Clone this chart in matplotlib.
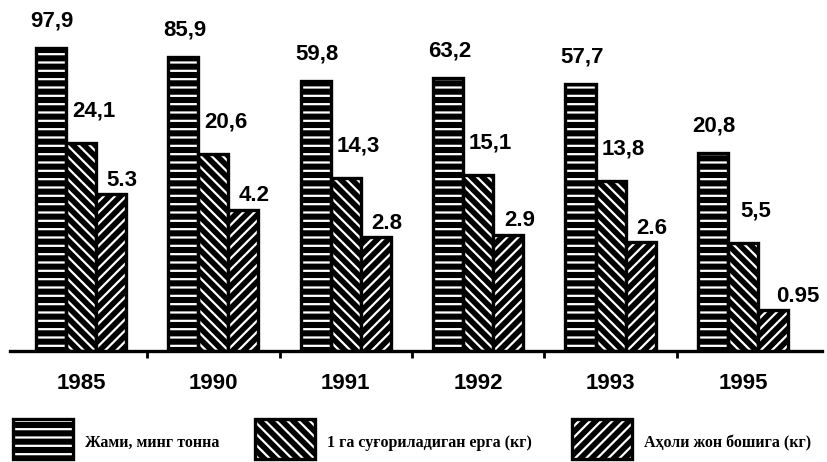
import numpy as np
import matplotlib
matplotlib.use('Agg')
import matplotlib.pyplot as plt
from matplotlib.patches import Rectangle

# data
years = ['1985', '1990', '1991', '1992', '1993', '1995']
total_kt = [97.9, 85.9, 59.8, 63.2, 57.7, 20.8]
per_ha_kg = [24.1, 20.6, 14.3, 15.1, 13.8, 5.5]
per_capita_kg = [5.3, 4.2, 2.8, 2.9, 2.6, 0.95]

total_labels = ['97,9', '85,9', '59,8', '63,2', '57,7', '20,8']
per_ha_labels = ['24,1', '20,6', '14,3', '15,1', '13,8', '5,5']
per_capita_labels = ['5.3', '4.2', '2.8', '2.9', '2.6', '0.95']

legend_labels = ['Жами, минг тонна', '1 га суғориладиган ерга (кг)', 'Аҳоли жон бошига (кг)']

plt.rcParams['hatch.linewidth'] = 1.6
num_font = dict(family=['Liberation Sans', 'DejaVu Sans'], fontweight='bold', fontsize=16)
leg_font = dict(family=['Liberation Serif', 'DejaVu Serif'], fontweight='bold', fontsize=11.5)

W, H = 828, 462
fig = plt.figure(figsize=(W / 100, H / 100), dpi=100)
ax = fig.add_axes([10 / W, 111 / H, 812 / W, 351 / H])
ax3 = ax.twinx()  # per-capita series drawn on its own log scale

x = np.arange(len(years))
w = 0.227


def hatched_bars(axis, xs, vals, low, hatch):
    vals = np.array(vals)
    # white hatch on black fill, then a heavy black outline
    axis.bar(xs, vals - low, bottom=low, width=w, color='black',
             edgecolor='white', hatch=hatch, linewidth=0, zorder=2)
    axis.bar(xs, vals - low, bottom=low, width=w, fill=False,
             edgecolor='black', linewidth=2.4, zorder=3)


ax.set_yscale('log')
ax.set_ylim(1.12, 199)
ax3.set_yscale('log')
ax3.set_ylim(0.522, 92.8)

hatched_bars(ax, x - w, total_kt, 1.12, '--')
hatched_bars(ax, x, per_ha_kg, 1.12, '\\\\\\')
hatched_bars(ax3, x + w, per_capita_kg, 0.522, '///')

for xi, v, lab in zip(x - w, total_kt, total_labels):
    ax.annotate(lab, (xi, v), xytext=(1, 19.5), textcoords='offset points',
                ha='center', va='center', **num_font)
for xi, v, lab in zip(x, per_ha_kg, per_ha_labels):
    ax.annotate(lab, (xi, v), xytext=(9, 23), textcoords='offset points',
                ha='center', va='center', **num_font)
for xi, v, lab in zip(x + w, per_capita_kg, per_capita_labels):
    dx = 18 if lab == '0.95' else 8
    ax3.annotate(lab, (xi, v), xytext=(dx, 10), textcoords='offset points',
                 ha='center', va='center', **num_font)

ax.set_xlim(-0.536, 5.597)
for a in (ax, ax3):
    for side in ('top', 'left', 'right'):
        a.spines[side].set_visible(False)
    a.set_yticks([])
    a.minorticks_off()
ax3.spines['bottom'].set_visible(False)
ax.yaxis.set_tick_params(which='both', length=0)
ax3.yaxis.set_tick_params(which='both', length=0)
ax.set_yticklabels([], minor=True)
ax3.set_yticklabels([], minor=True)
ax.spines['bottom'].set_linewidth(2.4)

ax.set_xticks(x[:-1] + 0.5)
ax.set_xticklabels([])
ax.tick_params(axis='x', which='major', direction='out', length=5, width=2)
ax.set_xticks(x, minor=True)
ax.set_xticklabels(years, minor=True, **num_font)
ax.tick_params(axis='x', which='minor', length=0, pad=16)

# legend drawn by hand along the bottom
swatches = [(13, '--'), (255, '\\\\\\'), (572, '///')]
for (sx, hatch), lab in zip(swatches, legend_labels):
    box = [sx / W, 3 / H, 60 / W, 40 / H]
    fig.add_artist(Rectangle(box[:2], box[2], box[3], transform=fig.transFigure,
                             facecolor='black', edgecolor='white', hatch=hatch, linewidth=0))
    fig.add_artist(Rectangle(box[:2], box[2], box[3], transform=fig.transFigure,
                             fill=False, edgecolor='black', linewidth=2.4))
    fig.text((sx + 72) / W, 19 / H, lab, ha='left', va='center', **leg_font)

fig.savefig('out.png', dpi=100)
